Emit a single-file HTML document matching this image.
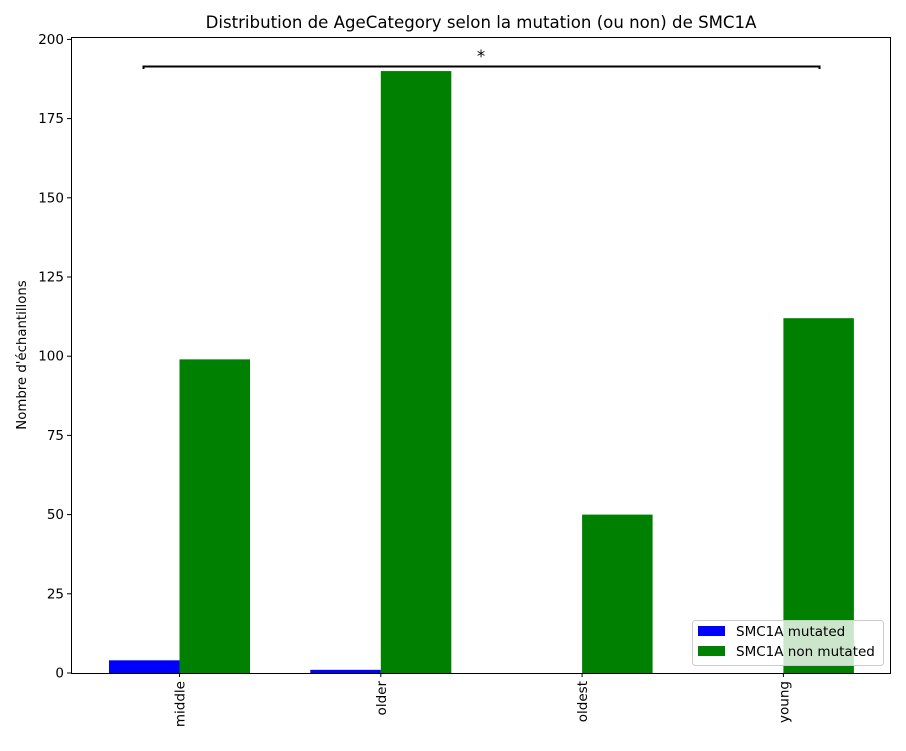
<!DOCTYPE html>
<html><head><meta charset="utf-8"><style>
body{margin:0;background:#fff;}
svg text{font-family:"DejaVu Sans","Liberation Sans",sans-serif;}
</style></head><body>
<svg id="chart" width="906" height="746" xmlns="http://www.w3.org/2000/svg">
<rect width="906" height="746" fill="#fff"/>
<text x="481" y="28" font-size="16.6" text-anchor="middle">Distribution de AgeCategory selon la mutation (ou non) de SMC1A</text>
<text transform="translate(26,355) rotate(-90)" font-size="13.3" text-anchor="middle">Nombre d'échantillons</text>
<g id="plot"></g>
</svg>
<script>
const categories=["middle","older","oldest","young"];
const mutated=[4,1,0,0];
const nonMutated=[99,190,50,112];
const yTicks=[0,25,50,75,100,125,150,175,200];
const seriesLabels=["SMC1A mutated","SMC1A non mutated"];

const NS="http://www.w3.org/2000/svg";
const L=71,R=891,T=37,B=673;
const y=v=>673-v*3.168;
const step=201.3, x0=179.5, bw=70.5;
const x=i=>x0+i*step;
const g=document.getElementById('plot');
function mk(tag,attrs,parent){const e=document.createElementNS(NS,tag);for(const k in attrs)e.setAttribute(k,attrs[k]);(parent||g).appendChild(e);return e;}
categories.forEach((c,i)=>{
  const b1=mk('rect',{x:x(i)-bw,y:y(mutated[i]),width:bw,height:y(0)-y(mutated[i]),fill:'#0000ff'});
  
  
  const b2=mk('rect',{x:x(i),y:y(nonMutated[i]),width:bw,height:y(0)-y(nonMutated[i]),fill:'#008000'});
  
  
  mk('line',{x1:x(i),x2:x(i),y1:B,y2:B+4,stroke:'#000'});
  const t=mk('text',{transform:`translate(${x(i)+5},${B+8}) rotate(-90)`,'font-size':13.5,'text-anchor':'end'});
  t.textContent=c;
  
  
});
yTicks.forEach(v=>{
  mk('line',{x1:L-4,x2:L,y1:y(v),y2:y(v),stroke:'#000'});
  const t=mk('text',{x:L-7,y:y(v)+4.5,'font-size':13.5,'text-anchor':'end'});
  t.textContent=v;
  
  
});
const fr=mk('rect',{x:L+0.5,y:T+0.5,width:R-L-1,height:B-T,fill:'none',stroke:'#000'});


const br=mk('path',{d:'M143.5,69 V66.5 H819.5 V69',fill:'none',stroke:'#000','stroke-width':2});


const st=mk('text',{x:481,y:62,'font-size':16.6,'text-anchor':'middle'});
st.textContent='*';


const lg=mk('g',{});


mk('rect',{x:692.5,y:620.5,width:191,height:45,rx:3,fill:'#fff','fill-opacity':0.8,stroke:'#ccc'},lg);
['#0000ff','#008000'].forEach((col,i)=>{
  mk('rect',{x:698,y:626+i*20,width:27,height:10,fill:col},lg);
  const t=mk('text',{x:736,y:636+i*20,'font-size':13.5},lg);
  t.textContent=seriesLabels[i];
  
  
});
</script>
</body></html>
